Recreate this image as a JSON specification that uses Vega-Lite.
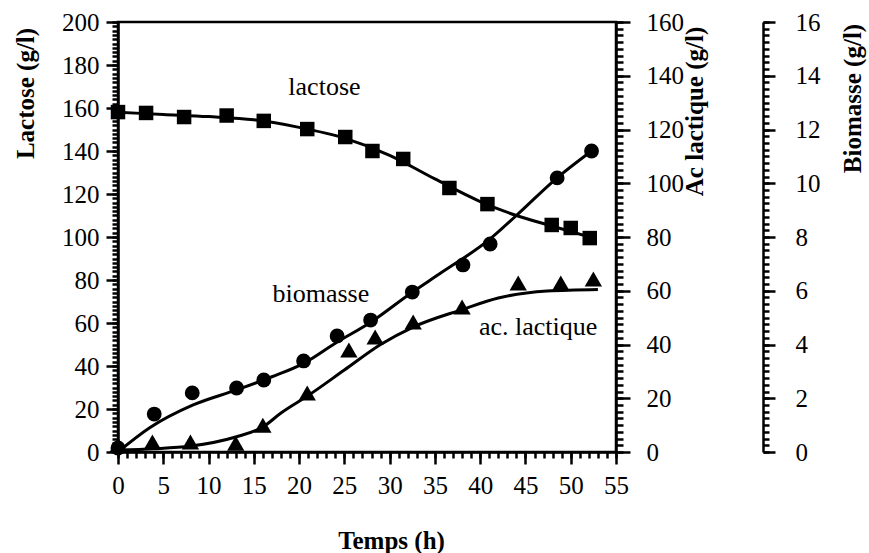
{
  "$schema": "https://vega.github.io/schema/vega-lite/v6.json",
  "width": 498,
  "height": 430,
  "autosize": {"type": "none"},
  "padding": {"left": 118, "top": 22, "right": 253, "bottom": 101},
  "config": {
    "view": {"stroke": "black", "strokeWidth": 2.5},
    "font": "Liberation Serif",
    "axis": {
      "domainColor": "black", "domainWidth": 2.5,
      "tickColor": "black", "tickWidth": 2.5,
      "labelColor": "black", "labelFont": "Liberation Serif", "labelFontSize": 25,
      "labelFlush": false, "labelOverlap": false,
      "titleFont": "Liberation Serif", "titleFontSize": 25, "titleFontWeight": "bold", "titleColor": "black",
      "grid": false
    }
  },
  "datasets": {
    "pts": [
      {"s": "lactose", "t": 0, "v": 158.1},
      {"s": "lactose", "t": 3.1, "v": 157.7},
      {"s": "lactose", "t": 7.3, "v": 155.8},
      {"s": "lactose", "t": 12.0, "v": 156.5},
      {"s": "lactose", "t": 16.1, "v": 154.0},
      {"s": "lactose", "t": 20.9, "v": 150.2},
      {"s": "lactose", "t": 25.1, "v": 146.5},
      {"s": "lactose", "t": 28.1, "v": 140.0},
      {"s": "lactose", "t": 31.5, "v": 136.3},
      {"s": "lactose", "t": 36.6, "v": 122.8},
      {"s": "lactose", "t": 40.8, "v": 115.3},
      {"s": "lactose", "t": 47.9, "v": 105.6},
      {"s": "lactose", "t": 50.0, "v": 104.2},
      {"s": "lactose", "t": 52.1, "v": 99.5},
      {"s": "ac", "t": 0, "v": 2.6},
      {"s": "ac", "t": 3.8, "v": 3.7},
      {"s": "ac", "t": 8.0, "v": 3.7},
      {"s": "ac", "t": 13.0, "v": 3.3},
      {"s": "ac", "t": 16.0, "v": 10.0},
      {"s": "ac", "t": 20.9, "v": 22.0},
      {"s": "ac", "t": 25.5, "v": 38.0},
      {"s": "ac", "t": 28.4, "v": 42.8},
      {"s": "ac", "t": 32.6, "v": 48.4},
      {"s": "ac", "t": 38.0, "v": 54.0},
      {"s": "ac", "t": 44.2, "v": 62.9},
      {"s": "ac", "t": 48.9, "v": 62.9},
      {"s": "ac", "t": 52.5, "v": 64.4},
      {"s": "bio", "t": 0, "v": 0.15},
      {"s": "bio", "t": 4.0, "v": 1.41},
      {"s": "bio", "t": 8.2, "v": 2.2},
      {"s": "bio", "t": 13.1, "v": 2.38},
      {"s": "bio", "t": 16.1, "v": 2.68},
      {"s": "bio", "t": 20.5, "v": 3.39},
      {"s": "bio", "t": 24.2, "v": 4.32},
      {"s": "bio", "t": 27.9, "v": 4.91},
      {"s": "bio", "t": 32.5, "v": 5.95},
      {"s": "bio", "t": 38.1, "v": 6.96},
      {"s": "bio", "t": 41.1, "v": 7.74},
      {"s": "bio", "t": 48.5, "v": 10.2},
      {"s": "bio", "t": 52.3, "v": 11.2}
    ],
    "fit": [
      {"s": "lactose", "t": 0, "v": 158},
      {"s": "lactose", "t": 5, "v": 157},
      {"s": "lactose", "t": 10, "v": 156},
      {"s": "lactose", "t": 15, "v": 154.5},
      {"s": "lactose", "t": 20, "v": 151},
      {"s": "lactose", "t": 25, "v": 146},
      {"s": "lactose", "t": 30, "v": 138},
      {"s": "lactose", "t": 35, "v": 127},
      {"s": "lactose", "t": 40, "v": 116.5},
      {"s": "lactose", "t": 44, "v": 110},
      {"s": "lactose", "t": 48, "v": 105},
      {"s": "lactose", "t": 52.5, "v": 99.5},
      {"s": "ac", "t": 0, "v": 0.7},
      {"s": "ac", "t": 4, "v": 1.2},
      {"s": "ac", "t": 8, "v": 2.2},
      {"s": "ac", "t": 13, "v": 5.6},
      {"s": "ac", "t": 16, "v": 9.3},
      {"s": "ac", "t": 18, "v": 14.5},
      {"s": "ac", "t": 21, "v": 21},
      {"s": "ac", "t": 25, "v": 30.5},
      {"s": "ac", "t": 29, "v": 40},
      {"s": "ac", "t": 32.6, "v": 46.5},
      {"s": "ac", "t": 38, "v": 53},
      {"s": "ac", "t": 42, "v": 57.3},
      {"s": "ac", "t": 47.4, "v": 59.9},
      {"s": "ac", "t": 53, "v": 60.5},
      {"s": "bio", "t": 0, "v": 0},
      {"s": "bio", "t": 3.5, "v": 0.9},
      {"s": "bio", "t": 8.3, "v": 1.75},
      {"s": "bio", "t": 13, "v": 2.3},
      {"s": "bio", "t": 17, "v": 2.8},
      {"s": "bio", "t": 20.5, "v": 3.3},
      {"s": "bio", "t": 24, "v": 4.05},
      {"s": "bio", "t": 28, "v": 4.85},
      {"s": "bio", "t": 32.3, "v": 5.9},
      {"s": "bio", "t": 35.6, "v": 6.65},
      {"s": "bio", "t": 41, "v": 7.9},
      {"s": "bio", "t": 44, "v": 8.8},
      {"s": "bio", "t": 48.5, "v": 10.2},
      {"s": "bio", "t": 52.3, "v": 11.2}
    ],
    "notes": [
      {"label": "lactose", "t": 22.8, "v": 166},
      {"label": "biomasse", "t": 22.4, "v": 69.8},
      {"label": "ac. lactique", "t": 46.4, "v": 54.4}
    ]
  },
  "resolve": {"scale": {"y": "independent"}, "axis": {"x": "independent", "y": "independent"}},
  "layer": [
    {
      "data": {"name": "fit"},
      "transform": [{"filter": "datum.s === 'lactose'"}],
      "mark": {"type": "line", "color": "black", "strokeWidth": 3, "interpolate": "monotone"},
      "encoding": {
        "x": {"field": "t", "type": "quantitative", "scale": {"domain": [0, 55], "nice": false, "zero": false},
          "axis": {"orient": "bottom", "values": [0, 5, 10, 15, 20, 25, 30, 35, 40, 45, 50, 55], "tickSize": 12, "labelPadding": 9,
            "title": "Temps (h)", "titleX": 273, "titleY": 88, "titleBaseline": "middle", "titleAlign": "center"}},
        "y": {"field": "v", "type": "quantitative", "scale": {"domain": [0, 200], "nice": false, "zero": false},
          "axis": {"orient": "left", "values": [0, 20, 40, 60, 80, 100, 120, 140, 160, 180, 200], "tickSize": 12, "labelPadding": 7,
            "title": "Lactose (g/l)", "titleAngle": -90, "titleX": -93, "titleY": 71, "titleBaseline": "middle", "titleAlign": "center"}}
      }
    },
    {
      "data": {"name": "pts"},
      "transform": [{"filter": "datum.s === 'lactose'"}],
      "mark": {"type": "point", "shape": "square", "filled": true, "color": "black", "opacity": 1, "size": 210},
      "encoding": {
        "x": {"field": "t", "type": "quantitative", "axis": null},
        "y": {"field": "v", "type": "quantitative", "scale": {"domain": [0, 200], "nice": false, "zero": false}, "axis": null}
      }
    },
    {
      "data": {"name": "notes"},
      "mark": {"type": "text", "font": "Liberation Serif", "fontSize": 26, "color": "black", "align": "center", "baseline": "alphabetic"},
      "encoding": {
        "x": {"field": "t", "type": "quantitative", "axis": null},
        "y": {"field": "v", "type": "quantitative", "scale": {"domain": [0, 200], "nice": false, "zero": false}, "axis": null},
        "text": {"field": "label"}
      }
    },
    {
      "data": {"name": "fit"},
      "transform": [{"filter": "datum.s === 'ac'"}],
      "mark": {"type": "line", "color": "black", "strokeWidth": 3, "interpolate": "monotone"},
      "encoding": {
        "x": {"field": "t", "type": "quantitative", "axis": null},
        "y": {"field": "v", "type": "quantitative", "scale": {"domain": [0, 160], "nice": false, "zero": false},
          "axis": {"orient": "right", "values": [0, 20, 40, 60, 80, 100, 120, 140, 160], "tickSize": 14, "labelPadding": 16,
            "title": "Ac lactique (g/l)", "titleAngle": 270, "titleX": 78, "titleY": 89, "titleBaseline": "middle", "titleAlign": "center"}}
      }
    },
    {
      "data": {"name": "pts"},
      "transform": [{"filter": "datum.s === 'ac'"}],
      "mark": {"type": "point", "shape": "triangle-up", "filled": true, "color": "black", "opacity": 1, "size": 300},
      "encoding": {
        "x": {"field": "t", "type": "quantitative", "axis": null},
        "y": {"field": "v", "type": "quantitative", "scale": {"domain": [0, 160], "nice": false, "zero": false}, "axis": null}
      }
    },
    {
      "data": {"name": "fit"},
      "transform": [{"filter": "datum.s === 'bio'"}],
      "mark": {"type": "line", "color": "black", "strokeWidth": 3, "interpolate": "monotone"},
      "encoding": {
        "x": {"field": "t", "type": "quantitative", "axis": null},
        "y": {"field": "v", "type": "quantitative", "scale": {"domain": [0, 16], "nice": false, "zero": false},
          "axis": {"orient": "right", "offset": 147, "values": [0, 2, 4, 6, 8, 10, 12, 14, 16], "tickSize": 12, "labelPadding": 20,
            "title": "Biomasse (g/l)", "titleAngle": 270, "titleX": 89, "titleY": 76, "titleBaseline": "middle", "titleAlign": "center"}}
      }
    },
    {
      "data": {"name": "pts"},
      "transform": [{"filter": "datum.s === 'bio'"}],
      "mark": {"type": "point", "shape": "circle", "filled": true, "color": "black", "opacity": 1, "size": 220},
      "encoding": {
        "x": {"field": "t", "type": "quantitative", "axis": null},
        "y": {"field": "v", "type": "quantitative", "scale": {"domain": [0, 16], "nice": false, "zero": false}, "axis": null}
      }
    },
    {
      "data": {"name": "pts"},
      "transform": [{"filter": "datum.s === 'lactose'"}],
      "mark": {"type": "point", "opacity": 0},
      "encoding": {
        "x": {"field": "t", "type": "quantitative",
          "axis": {"orient": "bottom", "values": [0,1,2,3,4,5,6,7,8,9,10,11,12,13,14,15,16,17,18,19,20,21,22,23,24,25,26,27,28,29,30,31,32,33,34,35,36,37,38,39,40,41,42,43,44,45,46,47,48,49,50,51,52,53,54,55],
            "labels": false, "domain": false, "tickSize": 6, "title": null}},
        "y": {"field": "v", "type": "quantitative", "scale": {"domain": [0, 200], "nice": false, "zero": false},
          "axis": {"orient": "left", "values": [0,2,4,6,8,10,12,14,16,18,20,22,24,26,28,30,32,34,36,38,40,42,44,46,48,50,52,54,56,58,60,62,64,66,68,70,72,74,76,78,80,82,84,86,88,90,92,94,96,98,100,102,104,106,108,110,112,114,116,118,120,122,124,126,128,130,132,134,136,138,140,142,144,146,148,150,152,154,156,158,160,162,164,166,168,170,172,174,176,178,180,182,184,186,188,190,192,194,196,198,200],
            "labels": false, "domain": false, "tickSize": 6, "title": null}}
      }
    },
    {
      "data": {"name": "pts"},
      "transform": [{"filter": "datum.s === 'ac'"}],
      "mark": {"type": "point", "opacity": 0},
      "encoding": {
        "x": {"field": "t", "type": "quantitative", "axis": null},
        "y": {"field": "v", "type": "quantitative", "scale": {"domain": [0, 160], "nice": false, "zero": false},
          "axis": {"orient": "right", "values": [0,2.5,5,7.5,10,12.5,15,17.5,20,22.5,25,27.5,30,32.5,35,37.5,40,42.5,45,47.5,50,52.5,55,57.5,60,62.5,65,67.5,70,72.5,75,77.5,80,82.5,85,87.5,90,92.5,95,97.5,100,102.5,105,107.5,110,112.5,115,117.5,120,122.5,125,127.5,130,132.5,135,137.5,140,142.5,145,147.5,150,152.5,155,157.5,160],
            "labels": false, "domain": false, "tickSize": 7, "title": null}}
      }
    },
    {
      "data": {"name": "pts"},
      "transform": [{"filter": "datum.s === 'bio'"}],
      "mark": {"type": "point", "opacity": 0},
      "encoding": {
        "x": {"field": "t", "type": "quantitative", "axis": null},
        "y": {"field": "v", "type": "quantitative", "scale": {"domain": [0, 16], "nice": false, "zero": false},
          "axis": {"orient": "right", "offset": 147, "values": [0,0.25,0.5,0.75,1,1.25,1.5,1.75,2,2.25,2.5,2.75,3,3.25,3.5,3.75,4,4.25,4.5,4.75,5,5.25,5.5,5.75,6,6.25,6.5,6.75,7,7.25,7.5,7.75,8,8.25,8.5,8.75,9,9.25,9.5,9.75,10,10.25,10.5,10.75,11,11.25,11.5,11.75,12,12.25,12.5,12.75,13,13.25,13.5,13.75,14,14.25,14.5,14.75,15,15.25,15.5,15.75,16],
            "labels": false, "domain": false, "tickSize": 6, "title": null}}
      }
    }
  ]
}
